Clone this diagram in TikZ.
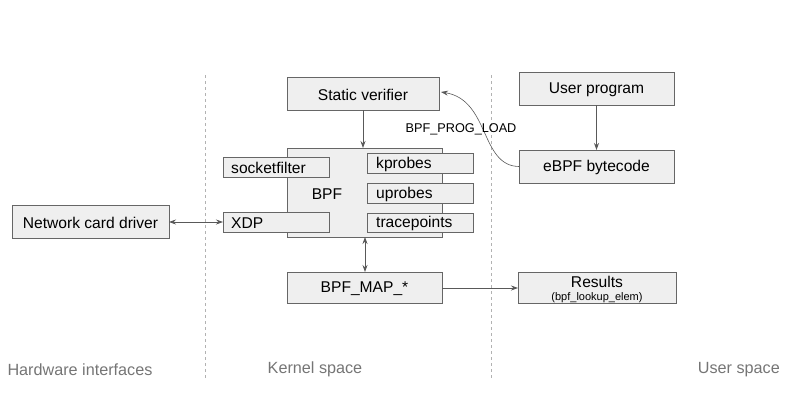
\documentclass[tikz,border=0pt]{standalone}
\usepackage{fontspec}
\setmainfont{Liberation Sans}
\usetikzlibrary{arrows.meta}
\definecolor{boxfill}{HTML}{EFEFEF}
\definecolor{boxline}{HTML}{666666}
\definecolor{arrowc}{HTML}{595959}
\definecolor{labelc}{HTML}{757575}
\begin{document}
\begin{tikzpicture}[x=1pt,y=-1pt,
  box/.style={draw=boxline,fill=boxfill,line width=0.8pt,inner sep=0pt},
  txt/.style={font=\fontsize{15.6}{18}\selectfont,inner sep=0pt},
  arr/.style={draw=arrowc,line width=0.8pt,-{Stealth[length=7pt,width=5pt]}},
  biarr/.style={draw=arrowc,line width=0.8pt,{Stealth[length=7pt,width=5pt]}-{Stealth[length=7pt,width=5pt]}},
  sep/.style={draw=gray!60,dashed,line width=0.6pt},
  region/.style={font=\fontsize{16.2}{18}\selectfont,text=labelc,inner sep=0pt}]
\useasboundingbox (0,0) rectangle (800,412);
% separators
\coordinate (s1t) at (205,75); \coordinate (s1b) at (205,380);
\coordinate (s2t) at (491,75); \coordinate (s2b) at (491,380);
\draw[sep] (s1t) -- (s1b);
\draw[sep] (s2t) -- (s2b);
% boxes
\path[box] (287,77) rectangle (439,110);
\node[txt] (sv) at (363,94.5) {Static verifier};
\coordinate (sve) at (439,93.5); \coordinate (svs) at (363,110);
\path[box] (519,72) rectangle (674,105);
\node[txt] (up) at (596.5,89.5) {User program};
\coordinate (ups) at (596.5,105);
\path[box] (519,150) rectangle (674,183);
\node[txt] (eb) at (596.5,167.5) {eBPF bytecode};
\coordinate (ebn) at (596.5,150); \coordinate (ebw) at (519,166.5);
% BPF big box
\path[box] (287,148) rectangle (442,237);
\node[txt] (bpf) at (327,194) {BPF};
\coordinate (bpfn) at (363,148); \coordinate (bpfs) at (365,237);
\path[box] (223,157) rectangle (329,177);
\node[txt,anchor=west] (sf) at (231,167.5) {socketfilter};
\path[box] (223,212) rectangle (329,232);
\node[txt,anchor=west] (xdp) at (231,223) {XDP};
\coordinate (xdpw) at (223,222);
\path[box] (367,153) rectangle (473,173);
\node[txt,anchor=west] (kp) at (376,164) {kprobes};
\path[box] (367,183) rectangle (473,203);
\node[txt,anchor=west] (upr) at (376,194) {uprobes};
\path[box] (367,213) rectangle (473,232);
\node[txt,anchor=west] (tp) at (376,223.5) {tracepoints};
% network card driver
\path[box] (12,205) rectangle (169,238);
\node[txt] (ncd) at (90.5,222.5) {Network card driver};
\coordinate (ncde) at (169,222);
% BPF_MAP
\path[box] (287,272) rectangle (442,303);
\node[txt] (map) at (364.5,288.5) {BPF\_MAP\_*};
\coordinate (mapn) at (365,272); \coordinate (mape) at (442,288);
% Results
\path[box] (518,272) rectangle (676,303);
\node[txt] (res) at (597,281.5) {Results};
\node[font=\fontsize{11}{12}\selectfont,inner sep=0pt] (resl) at (597,297.5) {(bpf\_lookup\_elem)};
\coordinate (resw) at (518,288);
% arrows
\draw[arr] (svs) -- (bpfn);
\draw[arr] (ups) -- (ebn);
\draw[biarr] (ncde) -- (xdpw);
\draw[biarr] (bpfs) -- (mapn);
\draw[arr] (mape) -- (resw);
\draw[draw=arrowc,line width=0.6pt,-{Stealth[length=7pt,width=5pt]}] (ebw) .. controls (480,166) and (490,100) .. (441,92);
\node[font=\fontsize{12.7}{14}\selectfont,inner sep=0pt] (pl) at (461,129.5) {BPF\_PROG\_LOAD};
% region labels
\node[region] (hw) at (80,369.5) {Hardware interfaces};
\node[region] (ks) at (315,369.5) {Kernel space};
\node[region,anchor=east] (us) at (780,369.5) {User space};
\end{tikzpicture}
\end{document}
